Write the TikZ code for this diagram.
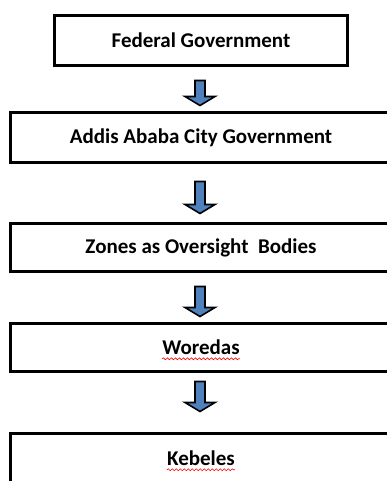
\documentclass[tikz,border=0pt]{standalone}
\usepackage{fontspec}
\setmainfont{Carlito}
\usetikzlibrary{calc,decorations.pathmorphing}

\definecolor{arrowblue}{HTML}{4F81BD}

% block arrow pointing down: #1 top point, #2 length
\newcommand{\blockarrow}[2]{%
  \draw[blockarr] (#1) ++(-5,0) -- ++(10,0) -- ++(0,{#2-9}) -- ++(10,0)
    -- ++(-15,9) -- ++(-15,-9) -- ++(10,0) -- cycle;}

\begin{document}
\begin{tikzpicture}[x=1pt,y=-1pt,
	box/.style={draw, line width=3pt, minimum height=50pt, minimum width=381pt},
	word/.style={inner sep=0pt, font=\bfseries\fontsize{21}{25}\selectfont},
	blockarr/.style={draw=black, fill=arrowblue, line width=1.6pt, line join=miter},
	spell/.style={draw=red, line width=0.6pt, decorate,
		decoration={snake, segment length=4pt, amplitude=1pt}}]
	\useasboundingbox (0,0) rectangle (387,481);
	\clip (0,0) rectangle (387,481);
	
	\node[box, minimum width=293pt] (fed) at (201,40.5) {};
	\node[word] (fedword) at (fed) {Federal Government};
	\node[box] (addis) at (201,137.5) {};
	\node[word] (addisword) at (addis) {Addis Ababa City Government};
	\node[box, minimum height=48pt] (zones) at (201,247.5) {};
	\node[word] (zonesword) at (zones) {Zones as Oversight~~Bodies};
	\node[box, minimum height=48pt] (woredas) at (201,347.5) {};
	\node[word] (woredasword) at (woredas) {Woredas};
	\node[box] (kebeles) at (201,458.5) {};
	\node[word] (kebelesword) at (kebeles) {Kebeles};
	
	% spell check marks
	\draw[spell] ($(woredasword.base west)+(0,4)$) -- ($(woredasword.base east)+(0,4)$);
	\draw[spell] ($(kebelesword.base west)+(0,4)$) -- ($(kebelesword.base east)+(0,4)$);
	
	% arrows between the levels
	\coordinate (a1) at ($(fed.south)+(-1,13.5)$);
	\coordinate (a2) at ($(addis.south)+(-1,17.5)$);
	\coordinate (a3) at ($(zones.south)+(-1,13.5)$);
	\coordinate (a4) at ($(woredas.south)+(-1,8.5)$);
	\blockarrow{a1}{25}
	\blockarrow{a2}{32}
	\blockarrow{a3}{30}
	\blockarrow{a4}{30}
\end{tikzpicture}
\end{document}
